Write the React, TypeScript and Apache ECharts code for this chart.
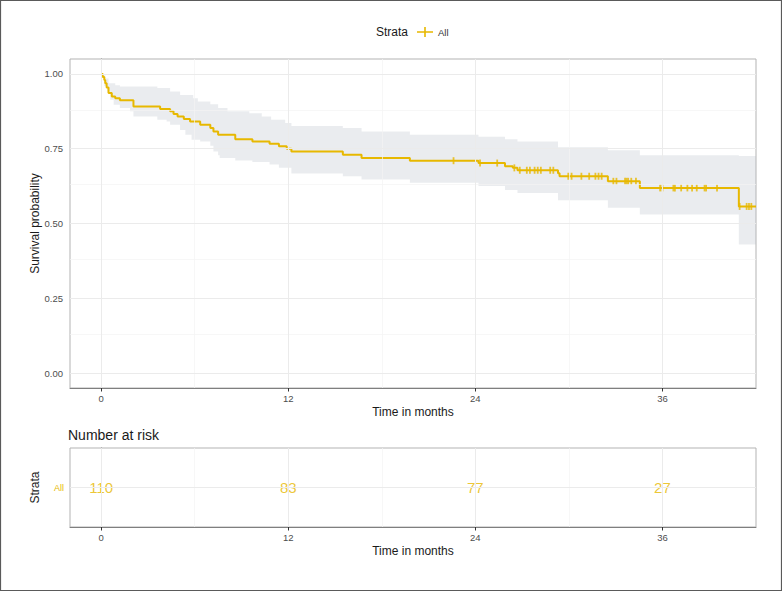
import React, { useEffect, useRef } from "react";
import * as echarts from "echarts";

// Kaplan-Meier estimate: survival from each time onward
const survTime = [0, 0.1, 0.2, 0.26, 0.35, 0.47, 0.68, 0.9, 1.2, 2.07, 3.78, 4.42, 4.64, 4.9, 5.3, 5.7, 6.35, 7.0, 7.2, 7.5, 8.6, 9.7, 10.8, 11.4, 11.9, 12.2, 15.5, 16.7, 19.8, 24.2, 25.9, 26.4, 26.7, 29.3, 29.4, 32.5, 34.55, 40.9];
const survProb = [1.0, 0.99, 0.98, 0.969, 0.955, 0.936, 0.925, 0.919, 0.912, 0.891, 0.883, 0.875, 0.866, 0.858, 0.849, 0.841, 0.83, 0.819, 0.808, 0.797, 0.782, 0.774, 0.767, 0.758, 0.75, 0.741, 0.73, 0.719, 0.71, 0.702, 0.691, 0.686, 0.678, 0.668, 0.658, 0.641, 0.619, 0.557];

// confidence band
const upperTime = [0, 0.26, 0.47, 0.9, 1.2, 3.6, 4.42, 5.06, 5.9, 6.2, 7.0, 7.5, 8.1, 9.5, 10.3, 10.9, 11.8, 12.2, 15.5, 16.7, 19.8, 24.2, 25.9, 26.7, 29.3, 32.5, 34.55, 40.9];
const upperProb = [1.0, 0.985, 0.969, 0.962, 0.958, 0.953, 0.941, 0.93, 0.919, 0.908, 0.899, 0.886, 0.875, 0.869, 0.858, 0.847, 0.836, 0.826, 0.819, 0.808, 0.797, 0.79, 0.782, 0.774, 0.755, 0.745, 0.728, 0.726];
const lowerTime = [0, 0.2, 0.4, 0.58, 0.8, 1.2, 1.85, 2.07, 3.6, 4.2, 4.42, 5.06, 5.4, 5.8, 6.35, 7.0, 7.2, 7.5, 7.6, 8.6, 9.7, 10.8, 11.4, 12.2, 15.5, 16.7, 19.8, 24.2, 25.9, 26.7, 29.3, 32.5, 34.55, 40.9];
const lowerProb = [1.0, 0.96, 0.941, 0.914, 0.897, 0.886, 0.875, 0.858, 0.847, 0.841, 0.83, 0.813, 0.797, 0.78, 0.774, 0.76, 0.741, 0.728, 0.719, 0.711, 0.706, 0.697, 0.686, 0.667, 0.658, 0.647, 0.636, 0.625, 0.612, 0.602, 0.578, 0.553, 0.53, 0.43];

// censoring times
const censorTime = [22.6, 24.3, 25.4, 26.5, 26.85, 27.3, 27.5, 27.8, 28.0, 28.2, 28.8, 29.0, 29.96, 30.17, 30.8, 31.3, 31.7, 31.9, 32.1, 32.85, 33.05, 33.6, 33.7, 33.8, 34.0, 34.3, 35.85, 36.0, 36.7, 36.8, 37.2, 37.6, 37.9, 38.2, 38.7, 38.8, 39.5, 40.95, 41.4, 41.55, 41.7];

// risk table
const strata = ["All"];
const riskTime = [0, 12, 24, 36];
const riskCount = [110, 83, 77, 27];

// axes
const xTicks = [0, 12, 24, 36];
const xMinor = [6, 18, 30];
const yTicks = [0, 0.25, 0.5, 0.75, 1];
const yTickLabels = ["0.00", "0.25", "0.50", "0.75", "1.00"];
const yMinor = [0.125, 0.375, 0.625, 0.875];
const X_MIN = -2;
const X_MAX = 42;

const FONT = "'Liberation Sans', Arial, Helvetica, sans-serif";
const GOLD = "#E7B800";

function survAt(t: number) {
  let s = survProb[0];
  for (let i = 0; i < survTime.length; i++) if (survTime[i] <= t) s = survProb[i];
  return s;
}

function gridLineSeries(idx: number, xs: number[], xm: number[], ys: any[], ym: any[]) {
  const major = { color: "#ebebeb", width: 1, type: "solid" };
  const minor = { color: "#f4f4f4", width: 0.7, type: "solid" };
  return {
    type: "line",
    xAxisIndex: idx,
    yAxisIndex: idx,
    data: [],
    silent: true,
    z: 0,
    markLine: {
      silent: true,
      symbol: ["none", "none"],
      label: { show: false },
      animation: false,
      data: [
        ...xm.map((v) => ({ xAxis: v, lineStyle: minor })),
        ...ym.map((v) => ({ yAxis: v, lineStyle: minor })),
        ...xs.map((v) => ({ xAxis: v, lineStyle: major })),
        ...ys.map((v) => ({ yAxis: v, lineStyle: major })),
      ],
    },
  };
}

export default function App() {
  const ref = useRef<HTMLDivElement>(null);
  useEffect(() => {
    if (!ref.current) return;
    const chart = echarts.init(ref.current, undefined, { renderer: "svg" });
    const curve = survTime.map((t, i) => [t, survProb[i]]);
    curve.push([X_MAX, survProb[survProb.length - 1]]);
    const censors = censorTime.map((t) => [t, survAt(t)]);

    const xBase = (idx: number) => ({
      gridIndex: idx,
      type: "value",
      min: X_MIN,
      max: X_MAX,
      axisLine: { show: true, onZero: false, lineStyle: { color: "#7f7f7f", width: 1 } },
      axisTick: { show: true, customValues: xTicks, length: 3.5, lineStyle: { color: "#333" } },
      axisLabel: { customValues: xTicks, fontSize: 9.5, color: "#4d4d4d", margin: 5, fontFamily: FONT },
      splitLine: { show: false },
      name: "Time in months",
      nameLocation: "middle",
      nameGap: 18,
      nameMoveOverlap: false,
      nameTextStyle: { fontSize: 12, color: "#1a1a1a", fontFamily: FONT },
    });

    const option: any = {
      animation: false,
      textStyle: { fontFamily: FONT },
      title: {
        text: "Number at risk",
        left: 68,
        top: 428,
        padding: 0,
        textStyle: { fontSize: 14, fontWeight: "normal", color: "#1a1a1a", fontFamily: FONT },
      },
      legend: {
        data: [{ name: "All", icon: "path://M0,4.2H16V5.8H0Z M7.2,0H8.8V10H7.2Z" }],
        left: 417,
        top: 27,
        padding: 0,
        itemWidth: 16,
        itemHeight: 10,
        selectedMode: false,
        textStyle: { fontSize: 9.5, color: "#333", fontFamily: FONT },
      },
      graphic: [
        {
          type: "rect",
          shape: { x: 0.5, y: 0.5, width: 781, height: 590 },
          style: { fill: "none", stroke: "#5a5a5a", lineWidth: 1.2 },
          silent: true,
        },
        {
          type: "text",
          x: 392,
          y: 32,
          style: { text: "Strata", align: "center", verticalAlign: "middle", fontSize: 12, fill: "#1a1a1a", fontFamily: FONT },
          silent: true,
        },
      ],
      grid: [
        { left: 70, right: 26, top: 59, height: 329, show: true, borderColor: "#b3b3b3", borderWidth: 1, backgroundColor: "#fff" },
        { left: 70, right: 26, top: 448, height: 79, show: true, borderColor: "#b3b3b3", borderWidth: 1, backgroundColor: "#fff" },
      ],
      xAxis: [xBase(0), xBase(1)],
      yAxis: [
        {
          gridIndex: 0,
          type: "value",
          min: -0.05,
          max: 1.05,
          axisLine: { show: true, lineStyle: { color: "#7f7f7f", width: 1 } },
          axisTick: { show: true, customValues: yTicks, length: 3.5, lineStyle: { color: "#333" } },
          axisLabel: {
            customValues: yTicks,
            formatter: (v: number) => yTickLabels[yTicks.indexOf(v)] ?? "",
            fontSize: 9.5,
            color: "#4d4d4d",
            margin: 7,
            fontFamily: FONT,
          },
          splitLine: { show: false },
          name: "Survival probability",
          nameLocation: "middle",
          nameGap: 29,
          nameMoveOverlap: false,
          nameTextStyle: { fontSize: 12, color: "#1a1a1a", fontFamily: FONT },
        },
        {
          gridIndex: 1,
          type: "category",
          data: strata,
          axisLine: { show: true, lineStyle: { color: "#7f7f7f", width: 1 } },
          axisTick: { show: true, alignWithLabel: true, length: 3.5, lineStyle: { color: "#333" } },
          axisLabel: { fontSize: 9, color: GOLD, margin: 6, fontFamily: FONT },
          splitLine: { show: false },
          name: "Strata",
          nameLocation: "middle",
          nameGap: 29,
          nameMoveOverlap: false,
          nameTextStyle: { fontSize: 12, color: "#1a1a1a", fontFamily: FONT },
        },
      ],
      series: [
        gridLineSeries(0, xTicks, xMinor, yTicks, yMinor),
        gridLineSeries(1, xTicks, xMinor, strata, []),
        {
          type: "custom",
          name: "band",
          xAxisIndex: 0,
          yAxisIndex: 0,
          z: 2,
          silent: true,
          clip: true,
          data: upperTime.map((t, i) => [t, upperProb[i]]),
          encode: { x: 0, y: 1 },
          renderItem: (params: any, api: any) => {
            if (params.dataIndex !== 0) return null;
            const pts: number[][] = [];
            for (let i = 0; i < upperTime.length; i++) {
              const t1 = i + 1 < upperTime.length ? upperTime[i + 1] : X_MAX;
              pts.push(api.coord([upperTime[i], upperProb[i]]));
              pts.push(api.coord([t1, upperProb[i]]));
            }
            for (let i = lowerTime.length - 1; i >= 0; i--) {
              const t1 = i + 1 < lowerTime.length ? lowerTime[i + 1] : X_MAX;
              pts.push(api.coord([t1, lowerProb[i]]));
              pts.push(api.coord([lowerTime[i], lowerProb[i]]));
            }
            return { type: "polygon", shape: { points: pts }, style: { fill: "rgba(180,188,196,0.28)" } };
          },
        },
        {
          type: "line",
          name: "All",
          xAxisIndex: 0,
          yAxisIndex: 0,
          step: "end",
          data: curve,
          showSymbol: false,
          z: 3,
          color: GOLD,
          lineStyle: { color: GOLD, width: 2 },
        },
        {
          type: "scatter",
          name: "censor",
          xAxisIndex: 0,
          yAxisIndex: 0,
          data: censors,
          symbol: "rect",
          symbolSize: [1.8, 7],
          z: 4,
          itemStyle: { color: GOLD },
        },
        {
          type: "scatter",
          name: "risk",
          xAxisIndex: 1,
          yAxisIndex: 1,
          data: riskTime.map((t, i) => [t, strata[0], riskCount[i]]),
          symbolSize: 0,
          z: 4,
          label: {
            show: true,
            position: "inside",
            formatter: (p: any) => String(p.value[2]),
            fontSize: 15,
            color: GOLD,
            fontFamily: FONT,
          },
        },
      ],
    };
    chart.setOption(option);
    return () => chart.dispose();
  }, []);
  return (
    <div style={{ position: "fixed", left: 0, top: 0, width: 782, height: 591, background: "#fff" }}>
      <div ref={ref} style={{ width: 782, height: 591 }} />
    </div>
  );
}
